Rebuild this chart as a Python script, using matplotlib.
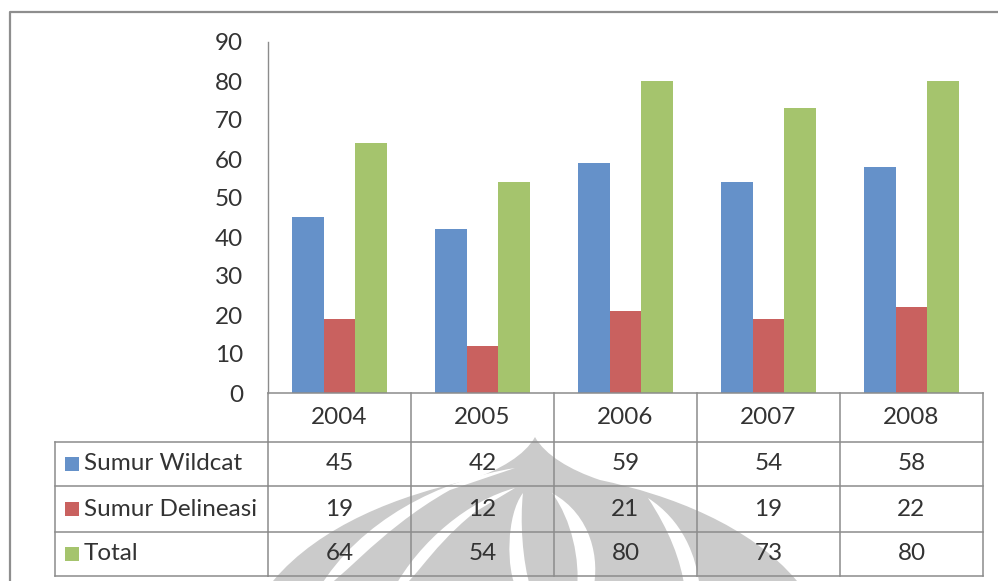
import matplotlib
matplotlib.use("Agg")
import matplotlib.pyplot as plt
from matplotlib.path import Path
from matplotlib.patches import PathPatch, Rectangle
from matplotlib.lines import Line2D
from matplotlib import transforms

# ---- data ----
years = ["2004", "2005", "2006", "2007", "2008"]
series_names = ["Sumur Wildcat", "Sumur Delineasi", "Total"]
wildcat = [45, 42, 59, 54, 58]
delineasi = [19, 12, 21, 19, 22]
total = [64, 54, 80, 73, 80]
y_ticks = [0, 10, 20, 30, 40, 50, 60, 70, 80, 90]

series_values = [wildcat, delineasi, total]
colors = ["#6591C9", "#C9615F", "#A5C46D"]

plt.rcParams["font.family"] = ["Lato", "DejaVu Sans"]
text_color = "#333333"
grid_color = "#8c8c8c"
FS = 17.5

W, H = 998, 581
fig = plt.figure(figsize=(W / 100, H / 100), dpi=100)
fig.patch.set_facecolor("white")

# background layer in pixel coordinates (y grows downward)
bg = fig.add_axes([0, 0, 1, 1], zorder=0)
bg.set_xlim(0, W)
bg.set_ylim(H, 0)
bg.axis("off")

# faint emblem behind the table
wm_gray = "#cbcbcb"
outer = Path(
    [(273, 581), (320, 525), (400, 495), (470, 480),
     (500, 470), (525, 455), (535, 437),
     (545, 455), (570, 470), (600, 480),
     (670, 495), (750, 525), (797, 581),
     (797, 600), (273, 600), (273, 581)],
    [Path.MOVETO, Path.CURVE4, Path.CURVE4, Path.CURVE4,
     Path.CURVE4, Path.CURVE4, Path.CURVE4,
     Path.CURVE4, Path.CURVE4, Path.CURVE4,
     Path.CURVE4, Path.CURVE4, Path.CURVE4,
     Path.LINETO, Path.LINETO, Path.CLOSEPOLY])
bg.add_patch(PathPatch(outer, facecolor=wm_gray, edgecolor="none", zorder=1))

bands = [
    [(318, 590), (360, 520), (440, 480), (515, 468), (450, 490), (375, 532), (334, 590)],
    [(393, 590), (420, 540), (470, 500), (515, 488), (475, 512), (425, 552), (411, 590)],
    [(523, 493), (506, 515), (506, 570), (517, 590), (531, 590), (522, 560), (520, 520)],
    [(552, 493), (592, 515), (600, 560), (593, 590), (577, 590), (580, 560), (572, 520)],
    [(648, 498), (682, 520), (697, 555), (700, 590), (685, 590), (681, 560), (669, 530)],
]
for b in bands:
    path = Path(
        [b[0], b[1], b[2], b[3], b[4], b[5], b[6], b[0], b[0]],
        [Path.MOVETO, Path.CURVE4, Path.CURVE4, Path.CURVE4,
         Path.LINETO, Path.CURVE4, Path.CURVE4, Path.CURVE4, Path.CLOSEPOLY])
    bg.add_patch(PathPatch(path, facecolor="white", edgecolor="none", zorder=2))

# chart frame (left and top edges)
bg.add_line(Line2D([10, 10, W], [H, 11.5, 11.5], color="#8e8e8e", lw=1.6, zorder=3))

# ---- main plot ----
ax_left, ax_right, ax_top, ax_bot = 268, 983, 42, 393
ax = fig.add_axes([ax_left / W, (H - ax_bot) / H,
                   (ax_right - ax_left) / W, (ax_bot - ax_top) / H], zorder=2)
ax.patch.set_alpha(0)

n = len(years)
x = list(range(n))
bar_w = 1 / 4.5
for i, (vals, col) in enumerate(zip(series_values, colors)):
    offs = (i - 1) * bar_w
    ax.bar([xi + offs for xi in x], vals, width=bar_w, color=col, edgecolor="none", zorder=2)

ax.set_xlim(-0.5, n - 0.5)
ax.set_ylim(0, 90)
ax.set_yticks(y_ticks)
ax.set_yticklabels([str(t) for t in y_ticks], fontsize=FS, color=text_color)
ax.tick_params(axis="y", length=0, pad=18)
ax.set_xticks([])
for s in ["top", "right", "bottom"]:
    ax.spines[s].set_visible(False)
ax.spines["left"].set_color(grid_color)
ax.spines["left"].set_linewidth(1.0)

# ---- data table under the plot ----
tr = transforms.blended_transform_factory(ax.transData, bg.transData)
row_y = [393, 442, 486, 532, 576]
label_left = 55
lkw = dict(color=grid_color, lw=1.1, clip_on=False, zorder=3)

# horizontal rules
ax.add_line(Line2D([-0.5, n - 0.5], [row_y[0], row_y[0]], transform=tr, **lkw))
for y in row_y[1:]:
    ax.add_line(Line2D([label_left, ax_left], [y, y], transform=bg.transData, **lkw))
    ax.add_line(Line2D([-0.5, n - 0.5], [y, y], transform=tr, **lkw))
# vertical rules
ax.add_line(Line2D([label_left, label_left], [row_y[1], row_y[-1]], transform=bg.transData, **lkw))
for k in range(n + 1):
    xb = k - 0.5
    ax.add_line(Line2D([xb, xb], [row_y[0], row_y[-1]], transform=tr, **lkw))

# header: years
hy = (row_y[0] + row_y[1]) / 2
for xi, yr in zip(x, years):
    ax.text(xi, hy, yr, transform=tr, ha="center", va="center", fontsize=FS,
            color=text_color, clip_on=False, zorder=4)

# series rows
for r, (name, vals, col) in enumerate(zip(series_names, series_values, colors)):
    cy = (row_y[r + 1] + row_y[r + 2]) / 2
    bg.add_patch(Rectangle((65, cy - 7), 14, 14, facecolor=col, edgecolor="none", zorder=5))
    ax.text(84, cy, name, transform=bg.transData, ha="left", va="center", fontsize=FS,
            color=text_color, clip_on=False, zorder=4)
    for xi, v in zip(x, vals):
        ax.text(xi, cy, str(v), transform=tr, ha="center", va="center", fontsize=FS,
                color=text_color, clip_on=False, zorder=4)

fig.savefig("out.png", dpi=100, facecolor="white")
